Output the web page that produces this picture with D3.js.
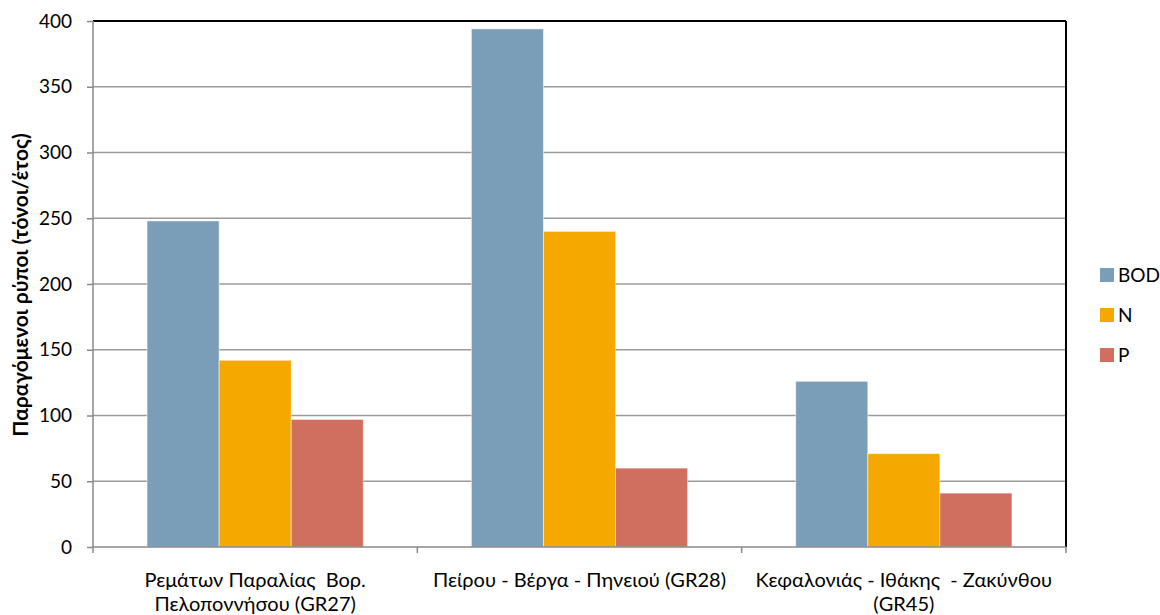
<!DOCTYPE html>
<html>
<head>
<meta charset="utf-8">
<script src="https://cdn.jsdelivr.net/npm/d3@7"></script>
<style>
body { margin: 0; background: #fff; }
text { font-family: Lato, "Open Sans", sans-serif; fill: #000; }
</style>
</head>
<body>
<svg id="chart" width="1160" height="615"></svg>
<script>
// basins (each label split over lines)
var categories = [
    ["Ρεμάτων Παραλίας  Βορ.", "Πελοποννήσου (GR27)"],
    ["Πείρου - Βέργα - Πηνειού (GR28)"],
    ["Κεφαλονιάς - Ιθάκης  - Ζακύνθου", "(GR45)"]
];
var series = ["BOD", "N", "P"];
var bod = [248, 394, 126];
var n = [142, 240, 71];
var p = [97, 60, 41];
var yTicks = [0, 50, 100, 150, 200, 250, 300, 350, 400];
var colors = ["#7b9eb8", "#f5a900", "#d06f5f"];

var values = [bod, n, p];

var svg = d3.select("#chart"),
    pl = 93, pr = 1066, pt = 21, pb = 547;

var x = d3.scaleBand()
    .domain(d3.range(categories.length))
    .range([pl, pr])
    .padding(0);

var bw = x.bandwidth() / 4.5;
var xs = d3.scaleBand()
    .domain(series)
    .range([0.75 * bw, 3.75 * bw]);

var y = d3.scaleLinear()
    .domain([0, 400])
    .range([pb, pt]);

// gridlines
svg.append("g")
    .selectAll("line")
    .data(yTicks.slice(1, -1))
    .enter().append("line")
    .attr("x1", pl).attr("x2", pr)
    .attr("y1", function(d) { return y(d); })
    .attr("y2", function(d) { return y(d); })
    .attr("stroke", "#9a9a9a")
    .attr("stroke-width", 1.5);

// bars
var grp = svg.append("g")
    .selectAll("g")
    .data(series)
    .enter().append("g")
    .attr("fill", function(d, i) { return colors[i]; });

grp.selectAll("rect")
    .data(function(s, i) { return values[i].map(function(v, j) { return { s: s, v: v, c: j }; }); })
    .enter().append("rect")
    .attr("x", function(d) { return x(d.c) + xs(d.s); })
    .attr("width", xs.bandwidth())
    .attr("y", function(d) { return y(d.v); })
    .attr("height", function(d) { return pb - y(d.v); })
    .attr("stroke", "rgba(255,255,255,0.5)")
    .attr("stroke-width", 1);

// frame: top and right black
svg.append("line")
    .attr("x1", pl).attr("x2", pr)
    .attr("y1", pt).attr("y2", pt)
    .attr("stroke", "#000").attr("stroke-width", 2);
svg.append("line")
    .attr("x1", pr).attr("x2", pr)
    .attr("y1", pt).attr("y2", pb)
    .attr("stroke", "#000").attr("stroke-width", 2);

// y axis
var yAxis = svg.append("g")
    .attr("transform", "translate(" + pl + ",0)")
    .call(d3.axisLeft(y).tickValues(yTicks).tickSize(6).tickPadding(15));
yAxis.selectAll("path, line").attr("stroke", "#888").attr("stroke-width", 1.5);
yAxis.select(".domain").attr("d", "M0," + pt + "V" + pb);
yAxis.selectAll("text").style("font-size", "19px").style("font-family", "Lato, 'Open Sans', sans-serif");

// x axis
var xAxis = svg.append("g")
    .attr("transform", "translate(0," + pb + ")");
xAxis.append("line")
    .attr("x1", pl).attr("x2", pr)
    .attr("stroke", "#888").attr("stroke-width", 1.5);
xAxis.selectAll(".tk")
    .data(d3.range(categories.length + 1))
    .enter().append("line")
    .attr("class", "tk")
    .attr("x1", function(d) { return pl + d * x.step(); })
    .attr("x2", function(d) { return pl + d * x.step(); })
    .attr("y1", 0).attr("y2", 6)
    .attr("stroke", "#888").attr("stroke-width", 1.5);

xAxis.selectAll(".lbl")
    .data(categories)
    .enter().append("text")
    .attr("class", "lbl")
    .attr("text-anchor", "middle")
    .style("font-size", "20px")
    .each(function(d, i) {
        var t = d3.select(this);
        d.forEach(function(line, k) {
            t.append("tspan")
                .attr("x", x(i) + x.bandwidth() / 2)
                .attr("y", 40 + k * 24)
                .style("white-space", "pre")
                .text(line);
        });
    });

// y title
svg.append("text")
    .attr("transform", "translate(28," + 285 + ") rotate(-90)")
    .attr("text-anchor", "middle")
    .style("font-size", "21px")
    .style("font-weight", "bold")
    .text("Παραγόμενοι ρύποι (τόνοι/έτος)");

// legend
var leg = svg.append("g")
    .selectAll("g")
    .data(series)
    .enter().append("g")
    .attr("transform", function(d, i) { return "translate(1100," + (268 + i * 40) + ")"; });
leg.append("rect")
    .attr("width", 14).attr("height", 14)
    .attr("fill", function(d, i) { return colors[i]; });
leg.append("text")
    .attr("x", 18).attr("y", 14)
    .style("font-size", "19px")
    .text(function(d) { return d; });
</script>
</body>
</html>
